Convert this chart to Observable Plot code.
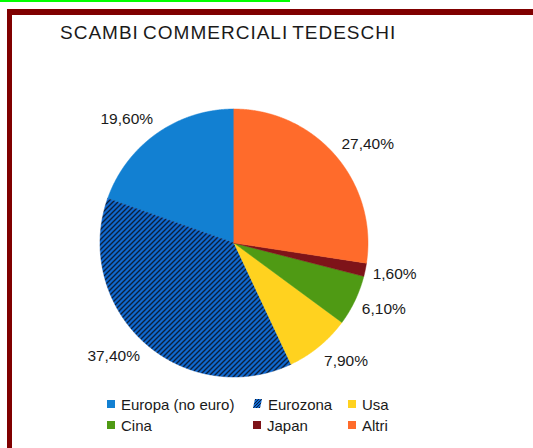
<!DOCTYPE html>
<html>
<head>
<meta charset="utf-8">
<script src="https://cdn.jsdelivr.net/npm/d3@7"></script>
<script src="https://cdn.jsdelivr.net/npm/@observablehq/plot@0.6"></script>
<style>
  html, body { margin: 0; padding: 0; background: #fff; }
  #wrap { position: relative; width: 533px; height: 448px; overflow: hidden; font-family: "Liberation Sans", Arial, sans-serif; color: #1a1a1a; }
  #greenline { position: absolute; left: 0; top: 0; width: 290px; height: 2px; background: #00ff00; }
  #frame { position: absolute; left: 7px; top: 9px; width: 600px; height: 600px; border-left: 5px solid #800000; border-top: 6px solid #800000; box-sizing: border-box; }
  #title { position: absolute; left: 60px; top: 23px; font-size: 19px; line-height: 19px; letter-spacing: 1px; word-spacing: -2px; white-space: nowrap; color: #1a1a1a; }
  #chart { position: absolute; left: 0; top: 60px; }
  #legend { position: absolute; left: 107px; top: 394px; display: grid; grid-template-columns: 146px 95px auto; font-size: 15px; line-height: 21px; }
  .item { display: flex; align-items: center; white-space: nowrap; }
  .sw { width: 8px; height: 8px; margin-right: 6px; position: relative; top: -1px; flex: none; }
</style>
</head>
<body>
<div id="wrap">
  <div id="greenline"></div>
  <div id="frame"></div>
  <div id="title">SCAMBI COMMERCIALI TEDESCHI</div>
  <div id="chart"></div>
  <div id="legend"></div>
</div>
<script>
// ---- data ----
const categories = ["Europa (no euro)", "Eurozona", "Usa", "Cina", "Japan", "Altri"];
const shares = [19.6, 37.4, 7.9, 6.1, 1.6, 27.4];
// ---- styles ----
const colors = ["#1280d2", "url(#hatch)", "#ffd21f", "#4f9a14", "#7e1319", "#ff6b2b"];

// Build slice outlines (unit circle, drawn counter-clockwise from 12 o'clock)
const slicePts = [];
const labels = [];
let start = 0;
const total = d3.sum(shares);
categories.forEach((cat, i) => {
  const a1 = start;
  const a0 = start - shares[i] / total * 2 * Math.PI;
  const n = Math.max(2, Math.ceil((a1 - a0) / 0.004) + 1);
  for (let k = 0; k < n; k++) {
    const a = a0 + (a1 - a0) * k / (n - 1);
    slicePts.push({cat, cx: 0, cy: 0, x: Math.sin(a), y: -Math.cos(a)});
  }
  const mid = (a0 + a1) / 2;
  labels.push({
    cat,
    right: Math.sin(mid) >= 0,
    x: Math.sin(mid) * 1.052,
    y: -Math.cos(mid) * 1.134,
    text: shares[i].toFixed(2).replace(".", ",") + "%"
  });
  start = a0;
});

const labelStyle = {x: "x", y: "y", text: "text", fontSize: 15.5, fill: "#1a1a1a"};

const plot = Plot.plot({
  width: 533,
  height: 330,
  margin: 0,
  x: {domain: [-1, 1], range: [100, 368], axis: null},
  y: {domain: [-1, 1], range: [49, 317], axis: null},
  color: {domain: categories, range: colors},
  style: {background: "none", fontFamily: "'Liberation Sans', Arial, sans-serif", overflow: "visible"},
  marks: [
    Plot.area(slicePts, {x1: "cx", y1: "cy", x2: "x", y2: "y", z: "cat", fill: "cat", stroke: "cat", strokeWidth: 0.5, curve: "linear"}),
    Plot.text(labels, {...labelStyle, filter: d => d.right, textAnchor: "start"}),
    Plot.text(labels, {...labelStyle, filter: d => !d.right, textAnchor: "end"})
  ]
});

d3.select(plot).insert("defs", ":first-child").html(
  '<pattern id="hatch" patternUnits="userSpaceOnUse" width="5" height="5">' +
  '<rect width="5" height="5" fill="#1068cf"></rect>' +
  '<path d="M-1,1 L1,-1 M0,5 L5,0 M4,6 L6,4" stroke="#0a1f3d" stroke-width="1.4"></path>' +
  '</pattern>'
);
document.getElementById("chart").appendChild(plot);

// Legend
const legend = d3.select("#legend");
categories.forEach((cat, i) => {
  const item = legend.append("div").attr("class", "item");
  if (colors[i].startsWith("url")) {
    const s = item.append("svg").attr("class", "sw").attr("width", 9).attr("height", 9).style("width", "9px").style("height", "9px");
    s.append("defs").html(
      '<pattern id="hatchLeg" patternUnits="userSpaceOnUse" width="3" height="3">' +
      '<rect width="3" height="3" fill="#1068cf"></rect>' +
      '<path d="M-1,1 L1,-1 M0,3 L3,0 M2,4 L4,2" stroke="#0a1f3d" stroke-width="1"></path>' +
      '</pattern>');
    s.append("path").attr("d", "M0,9 L2,0 L9,0 L7,9 Z").attr("fill", "url(#hatchLeg)");
  } else {
    item.append("div").attr("class", "sw").style("background", colors[i]);
  }
  item.append("span").text(cat);
});
</script>
</body>
</html>
